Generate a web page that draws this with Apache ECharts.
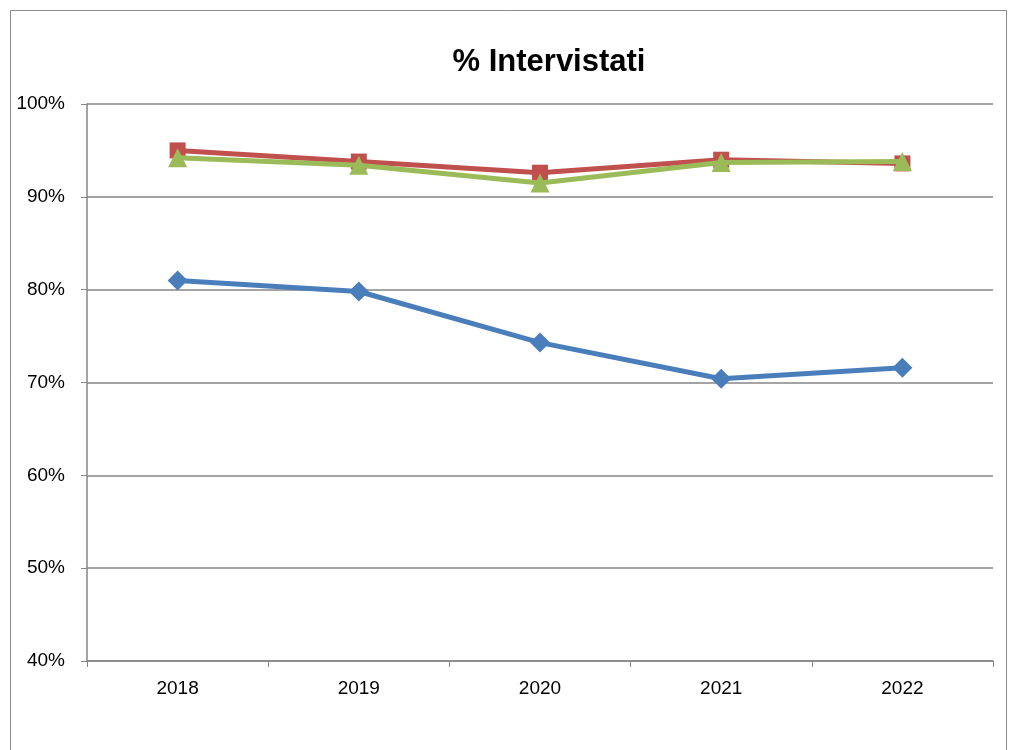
<!DOCTYPE html>
<html>
<head>
<meta charset="utf-8">
<script src="https://cdn.jsdelivr.net/npm/echarts@6/dist/echarts.min.js"></script>
<style>html,body{margin:0;padding:0;background:#fff}#c{width:1010px;height:750px}</style>
</head>
<body>
<div id="c"></div>
<script>
const categories = ['2018', '2019', '2020', '2021', '2022'];
const serieBlu = [81.0, 79.8, 74.3, 70.4, 71.6];
const serieRossa = [95.0, 93.8, 92.6, 94.0, 93.6];
const serieVerde = [94.2, 93.4, 91.5, 93.7, 93.8];
const yTicks = [40, 50, 60, 70, 80, 90, 100];

const chart = echarts.init(document.getElementById('c'));
const font = 'Liberation Sans, Arial, sans-serif';
function mk(data, color, symbol, size, z) {
  return {
    type: 'line', data: data, symbol: symbol, symbolSize: size,
    lineStyle: { color: color, width: 5 },
    itemStyle: { color: color },
    z: z, animation: false
  };
}
chart.setOption({
  animation: false,
  title: {
    text: '% Intervistati', left: 544, textAlign: 'center', top: 42,
    textStyle: { fontFamily: font, fontWeight: 'bold', fontSize: 31, color: '#000' }
  },
  graphic: [{
    type: 'rect', shape: { x: 10.5, y: 10.5, width: 996, height: 800 },
    style: { fill: 'none', stroke: '#8a8a8a', lineWidth: 1 }, silent: true
  }],
  grid: { left: 87, right: 17, top: 104, bottom: 89, containLabel: false },
  xAxis: {
    type: 'category', data: categories, boundaryGap: true,
    axisLine: { lineStyle: { color: '#868686', width: 1.5 } },
    axisTick: { show: true, length: 6, inside: false, lineStyle: { color: '#868686' } },
    axisLabel: { fontFamily: font, fontSize: 19, color: '#000', margin: 18 }
  },
  yAxis: {
    type: 'value', min: 40, max: 100, interval: 10,
    axisLine: { show: true, lineStyle: { color: '#868686', width: 1.5 } },
    axisTick: { show: true, length: 6, lineStyle: { color: '#868686' } },
    splitLine: { lineStyle: { color: '#868686', width: 1.5 } },
    axisLabel: {
      fontFamily: font, fontSize: 19, color: '#000', margin: 22,
      formatter: v => yTicks.includes(v) ? v + '%' : ''
    }
  },
  series: [
    mk(serieBlu, '#4A7EBB', 'diamond', 20, 2),
    mk(serieRossa, '#C0504D', 'rect', 16, 3),
    mk(serieVerde, '#9BBB59', 'triangle', 19, 4)
  ]
});
</script>
</body>
</html>
